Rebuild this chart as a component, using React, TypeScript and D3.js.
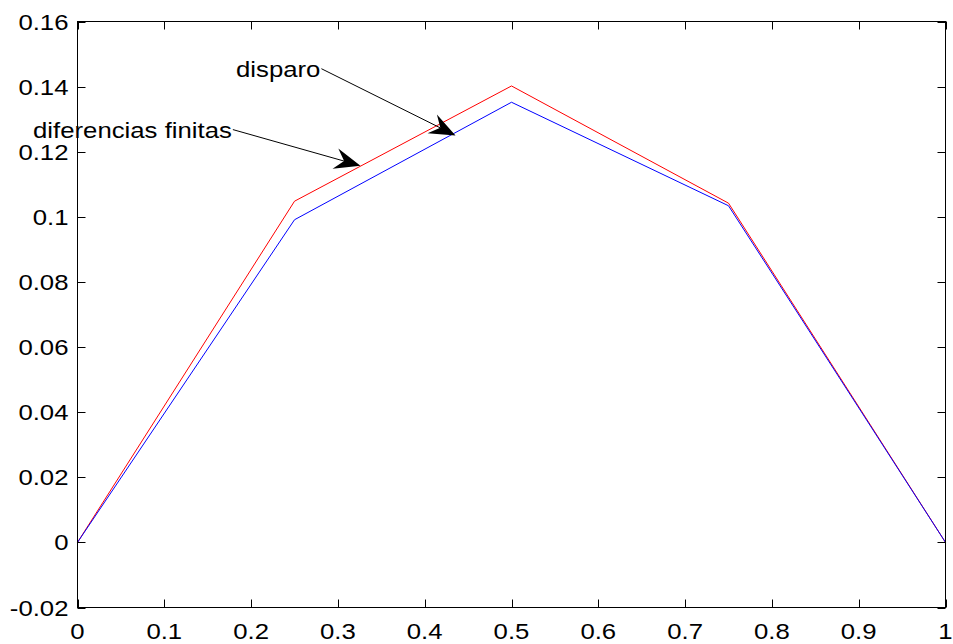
import React from "react";
import * as d3 from "d3";

const xValues = [0, 0.25, 0.5, 0.75, 1];
const finiteDiff = [0, 0.1048, 0.1402, 0.1042, 0];
const shooting = [0, 0.0991, 0.1352, 0.1034, 0];
const xTicks = [0, 0.1, 0.2, 0.3, 0.4, 0.5, 0.6, 0.7, 0.8, 0.9, 1];
const yTicks = [-0.02, 0, 0.02, 0.04, 0.06, 0.08, 0.1, 0.12, 0.14, 0.16];
const annotations = [
  { label: "disparo", tx: 0.281, ty: 0.1455, ax: 0.4355, ay: 0.125 },
  { label: "diferencias finitas", tx: 0.179, ty: 0.1268, ax: 0.326, ay: 0.1157 },
];

const W = 953, H = 644;
const L = 77.5, R = 945.5, T = 21.5, B = 607.5;
const FONT = "'Liberation Sans', Arial, sans-serif";
const FS = 22;
const SX = 1.17;

function fmt(v: number) {
  const s = String(Math.round(v * 100) / 100);
  return s;
}

function Arrow({ x1, y1, x2, y2 }: { x1: number; y1: number; x2: number; y2: number }) {
  const dx = x2 - x1, dy = y2 - y1;
  const len = Math.hypot(dx, dy);
  const ux = dx / len, uy = dy / len;
  const px = -uy, py = ux;
  const hl = 26, hw = 10.5, notch = 17;
  const c1 = [x2 - ux * hl + px * hw, y2 - uy * hl + py * hw];
  const c2 = [x2 - ux * hl - px * hw, y2 - uy * hl - py * hw];
  const n = [x2 - ux * notch, y2 - uy * notch];
  return (
    <g>
      <line x1={x1} y1={y1} x2={n[0]} y2={n[1]} stroke="#000" strokeWidth={1} />
      <path d={`M${x2},${y2}L${c1[0]},${c1[1]}L${n[0]},${n[1]}L${c2[0]},${c2[1]}Z`} fill="#000" />
    </g>
  );
}

export default function App() {
  const x = d3.scaleLinear().domain([0, 1]).range([L, R]);
  const y = d3.scaleLinear().domain([-0.02, 0.16]).range([B, T]);
  const line = d3
    .line<number>()
    .x((_, i) => x(xValues[i]))
    .y((d) => y(d));
  const tk = 8;
  return (
    <svg width={W} height={H} style={{ position: "absolute", left: 0, top: 0, background: "#fff" }}>
      <rect x={0} y={0} width={W} height={H} fill="#fff" />
      <path d={line(finiteDiff) || ""} fill="none" stroke="#ff0000" strokeWidth={1} />
      <path d={line(shooting) || ""} fill="none" stroke="#0000ff" strokeWidth={1} />
      {xTicks.map((t) => {
        const xx = Math.round(x(t)) + 0.5;
        return (
          <g key={"x" + t}>
            <line x1={xx} x2={xx} y1={B} y2={B - tk} stroke="#000" />
            <line x1={xx} x2={xx} y1={T} y2={T + tk} stroke="#000" />
            <g transform={`translate(${x(t)},${B + 31}) scale(${SX},1)`}>
              <text textAnchor="middle" fontFamily={FONT} fontSize={FS} fill="#000">{fmt(t)}</text>
            </g>
          </g>
        );
      })}
      {yTicks.map((t) => {
        const yy = Math.round(y(t)) + 0.5;
        return (
          <g key={"y" + t}>
            <line x1={L} x2={L + tk} y1={yy} y2={yy} stroke="#000" />
            <line x1={R} x2={R - tk} y1={yy} y2={yy} stroke="#000" />
            <g transform={`translate(${L - 9},${y(t) + 8}) scale(${SX},1)`}>
              <text textAnchor="end" fontFamily={FONT} fontSize={FS} fill="#000">{fmt(t)}</text>
            </g>
          </g>
        );
      })}
      {annotations.map((a) => (
        <g key={a.label}>
          <g transform={`translate(${x(a.tx) - 1},${y(a.ty) + 8}) scale(${SX},1)`}>
            <text textAnchor="end" fontFamily={FONT} fontSize={FS} fill="#000">{a.label}</text>
          </g>
          <Arrow x1={x(a.tx)} y1={y(a.ty)} x2={x(a.ax)} y2={y(a.ay)} />
        </g>
      ))}
      <rect x={L} y={T} width={R - L} height={B - T} fill="none" stroke="#000" strokeWidth={1} />
    </svg>
  );
}
